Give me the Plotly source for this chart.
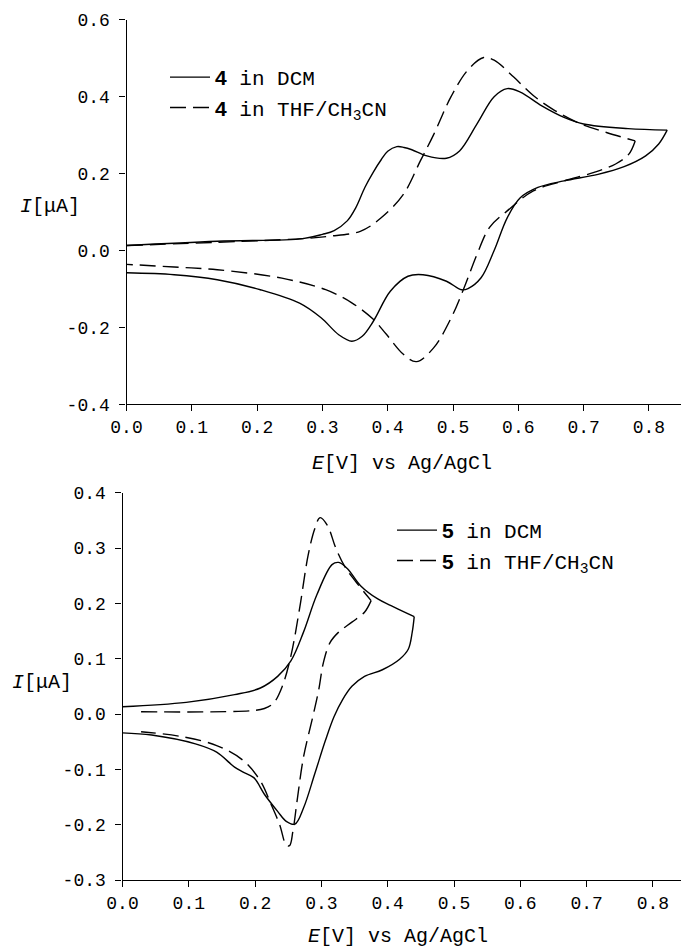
import plotly.graph_objects as go

# ---- Top panel: compound 4 (forward scan / reverse scan) ----
e4_dcm_fwd = [0.0, 0.139, 0.27, 0.30, 0.318, 0.338, 0.351, 0.365, 0.378, 0.39, 0.40, 0.414, 0.425, 0.437, 0.46,
              0.49, 0.51, 0.537, 0.563, 0.583, 0.603, 0.636, 0.67, 0.70, 0.768, 0.828]
i4_dcm_fwd = [0.013, 0.024, 0.031, 0.042, 0.052, 0.077, 0.111, 0.164, 0.204, 0.236, 0.258, 0.27, 0.268, 0.262,
              0.246, 0.24, 0.259, 0.33, 0.40, 0.421, 0.412, 0.376, 0.346, 0.329, 0.317, 0.313]
e4_dcm_rev = [0.828, 0.815, 0.795, 0.762, 0.722, 0.67, 0.63, 0.603, 0.583, 0.563, 0.543, 0.523, 0.513, 0.49,
              0.454, 0.431, 0.404, 0.378, 0.361, 0.345, 0.325, 0.298, 0.265, 0.205, 0.139, 0.073, 0.0]
i4_dcm_rev = [0.313, 0.277, 0.246, 0.218, 0.198, 0.181, 0.164, 0.137, 0.085, 0.0, -0.071, -0.099, -0.102, -0.08,
              -0.063, -0.067, -0.106, -0.184, -0.223, -0.236, -0.219, -0.175, -0.137, -0.102, -0.076, -0.063,
              -0.058]

e4_thf_fwd = [0.0, 0.27, 0.31, 0.358, 0.39, 0.424, 0.45, 0.47, 0.497, 0.523, 0.547, 0.563, 0.593, 0.623,
              0.656, 0.696, 0.735, 0.779]
i4_thf_fwd = [0.013, 0.031, 0.037, 0.05, 0.085, 0.146, 0.233, 0.30, 0.40, 0.47, 0.502, 0.495, 0.451, 0.403,
              0.364, 0.329, 0.307, 0.285]
e4_thf_rev = [0.779, 0.769, 0.749, 0.716, 0.67, 0.623, 0.583, 0.556, 0.537, 0.517, 0.497, 0.470, 0.444, 0.424,
              0.398, 0.378, 0.345, 0.305, 0.238, 0.139, 0.073, 0.0]
i4_thf_rev = [0.285, 0.25, 0.225, 0.203, 0.181, 0.155, 0.103, 0.06, -0.009, -0.097, -0.176, -0.254, -0.289,
              -0.270, -0.218, -0.179, -0.136, -0.102, -0.072, -0.05, -0.043, -0.036]

# ---- Bottom panel: compound 5 ----
e5_dcm_fwd = [0.0, 0.096, 0.169, 0.208, 0.234, 0.254, 0.273, 0.293, 0.316, 0.326, 0.339, 0.359, 0.385, 0.405,
              0.431, 0.44]
i5_dcm_fwd = [0.013, 0.021, 0.035, 0.047, 0.068, 0.096, 0.148, 0.215, 0.27, 0.274, 0.263, 0.232, 0.208, 0.196,
              0.181, 0.176]
e5_dcm_rev = [0.44, 0.437, 0.431, 0.418, 0.392, 0.365, 0.346, 0.332, 0.319, 0.306, 0.29, 0.273, 0.26, 0.247,
              0.234, 0.214, 0.198, 0.182, 0.169, 0.142, 0.11, 0.044, 0.0]
i5_dcm_rev = [0.176, 0.148, 0.117, 0.099, 0.08, 0.068, 0.05, 0.026, -0.005, -0.048, -0.108, -0.17, -0.199,
              -0.194, -0.176, -0.145, -0.115, -0.105, -0.096, -0.069, -0.054, -0.038, -0.034]

e5_thf_fwd = [0.028, 0.195, 0.214, 0.228, 0.241, 0.254, 0.267, 0.28, 0.29, 0.298, 0.309, 0.322, 0.336, 0.352,
              0.375]
i5_thf_fwd = [0.004, 0.006, 0.01, 0.02, 0.05, 0.105, 0.19, 0.287, 0.335, 0.355, 0.341, 0.299, 0.265, 0.239,
              0.205]
e5_thf_rev = [0.375, 0.365, 0.346, 0.326, 0.313, 0.303, 0.296, 0.287, 0.273, 0.264, 0.257, 0.252, 0.247, 0.237,
              0.224, 0.208, 0.182, 0.142, 0.09, 0.028]
i5_thf_rev = [0.205, 0.184, 0.166, 0.148, 0.129, 0.093, 0.044, -0.005, -0.078, -0.151, -0.212, -0.238, -0.237,
              -0.2, -0.163, -0.121, -0.084, -0.057, -0.041, -0.032]

x_ticks = [0.0, 0.1, 0.2, 0.3, 0.4, 0.5, 0.6, 0.7, 0.8]
x_ticklabels = ["0.0", "0.1", "0.2", "0.3", "0.4", "0.5", "0.6", "0.7", "0.8"]
y1_ticks = [-0.4, -0.2, 0.0, 0.2, 0.4, 0.6]
y1_ticklabels = ["-0.4", "-0.2", "0.0", "0.2", "0.4", "0.6"]
y2_ticks = [-0.3, -0.2, -0.1, 0.0, 0.1, 0.2, 0.3, 0.4]
y2_ticklabels = ["-0.3", "-0.2", "-0.1", "0.0", "0.1", "0.2", "0.3", "0.4"]

MONO = "Liberation Mono, Courier New, monospace"
W, H = 681, 948
LEG_SIZE = 21


def bold_num(n):
    return ("<span style='font-family:Liberation Sans, Arial, sans-serif;font-weight:bold'>%s</span>" % n)


fig = go.Figure()
line_solid = dict(color="black", width=1.4, shape="spline", smoothing=1.0)
line_dash = dict(color="black", width=1.4, dash="16px,7px", shape="spline", smoothing=1.0)


def add_cv(ef, if_, er, ir, line, name, xa, ya, leg, grp):
    fig.add_trace(go.Scatter(x=ef, y=if_, mode="lines", line=line, name=name, xaxis=xa, yaxis=ya,
                             legend=leg, legendgroup=grp, showlegend=True))
    fig.add_trace(go.Scatter(x=er, y=ir, mode="lines", line=line, name=name, xaxis=xa, yaxis=ya,
                             legend=leg, legendgroup=grp, showlegend=False))


add_cv(e4_dcm_fwd, i4_dcm_fwd, e4_dcm_rev, i4_dcm_rev, line_solid, bold_num("4") + " in DCM",
       "x", "y", "legend", "a")
add_cv(e4_thf_fwd, i4_thf_fwd, e4_thf_rev, i4_thf_rev, line_dash, bold_num("4") + " in THF/CH<sub>3</sub>CN",
       "x", "y", "legend", "b")
add_cv(e5_dcm_fwd, i5_dcm_fwd, e5_dcm_rev, i5_dcm_rev, line_solid, bold_num("5") + " in DCM",
       "x2", "y2", "legend2", "c")
add_cv(e5_thf_fwd, i5_thf_fwd, e5_thf_rev, i5_thf_rev, line_dash, bold_num("5") + " in THF/CH<sub>3</sub>CN",
       "x2", "y2", "legend2", "d")

tickfont = dict(family=MONO, size=18, color="black")
common_x = dict(showgrid=False, zeroline=False, showline=True, linecolor="black", linewidth=1.2,
                ticks="outside", ticklen=6, tickcolor="black", tickwidth=1, tickfont=tickfont,
                tickvals=x_ticks, ticktext=x_ticklabels, automargin=False)
common_y = dict(showgrid=False, zeroline=False, showline=True, linecolor="black", linewidth=1.2,
                ticks="outside", ticklen=6, tickcolor="black", tickwidth=1, tickfont=tickfont,
                automargin=False, ticklabelstandoff=6)

x1_left = 126.5
x2_left = 122.5
legfont = dict(family=MONO, size=LEG_SIZE, color="black")
fig.update_layout(
    template="none",
    width=W, height=H, margin=dict(l=0, r=0, t=0, b=0, autoexpand=False),
    paper_bgcolor="white", plot_bgcolor="white",
    xaxis=dict(domain=[x1_left / W, 1.0], range=[0, (W - x1_left) / 653.0], anchor="y", **common_x),
    yaxis=dict(domain=[1 - 404.3 / H, 1 - 19.8 / H], range=[-0.4, 0.6], anchor="x",
               tickvals=y1_ticks, ticktext=y1_ticklabels, **common_y),
    xaxis2=dict(domain=[x2_left / W, 1.0], range=[0, (W - x2_left) / 663.0], anchor="y2", **common_x),
    yaxis2=dict(domain=[1 - 880.0 / H, 1 - 492.7 / H], range=[-0.3, 0.4], anchor="x2",
                tickvals=y2_ticks, ticktext=y2_ticklabels, **common_y),
    legend=dict(x=165 / W, y=1 - 57 / H, xanchor="left", yanchor="top", bgcolor="rgba(0,0,0,0)",
                font=legfont, tracegroupgap=0, itemwidth=40),
    legend2=dict(x=392 / W, y=1 - 510 / H, xanchor="left", yanchor="top", bgcolor="rgba(0,0,0,0)",
                 font=legfont, tracegroupgap=0, itemwidth=40),
    showlegend=True,
)

title_font = dict(family=MONO, size=20, color="black")
annotations = [
    dict(text="<i>I</i>[μA]", x=50 / W, y=1 - 206 / H),
    dict(text="<i>I</i>[μA]", x=42 / W, y=1 - 682 / H),
    dict(text="<i>E</i>[V] vs Ag/AgCl", x=402 / W, y=1 - 463 / H),
    dict(text="<i>E</i>[V] vs Ag/AgCl", x=398 / W, y=1 - 936 / H),
]
for a in annotations:
    fig.add_annotation(xref="paper", yref="paper", showarrow=False, xanchor="center", yanchor="middle",
                       font=title_font, **a)

fig.write_html("out.html", config={"displayModeBar": False},
               post_script="document.body.style.margin='0';document.body.style.overflow='hidden';")
